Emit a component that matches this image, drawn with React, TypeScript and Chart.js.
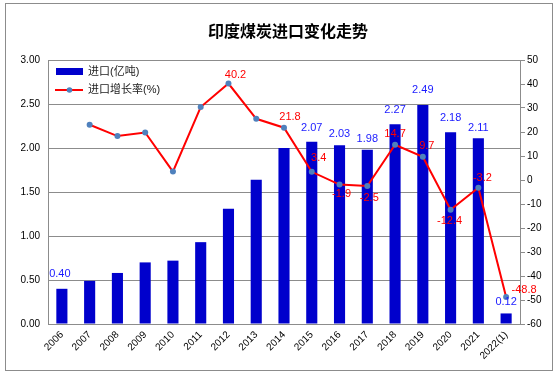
import React, { useEffect, useRef } from "react";
import { Chart, registerables } from "chart.js";

Chart.register(...registerables);

const titleText = "印度煤炭进口变化走势";
const categories = ["2006", "2007", "2008", "2009", "2010", "2011", "2012", "2013", "2014", "2015", "2016", "2017", "2018", "2019", "2020", "2021", "2022(1)"];
const importLabel = "进口(亿吨)";
const growthLabel = "进口增长率(%)";
const importVolume = [0.40, 0.49, 0.58, 0.70, 0.72, 0.93, 1.31, 1.64, 2.00, 2.07, 2.03, 1.98, 2.27, 2.49, 2.18, 2.11, 0.12];
const growthRate: (number | null)[] = [null, 23.0, 18.3, 19.8, 3.5, 30.4, 40.2, 25.5, 21.8, 3.4, -1.9, -2.5, 14.7, 9.7, -12.4, -3.2, -48.8];
const importLabelShown = [true, false, false, false, false, false, false, false, false, true, true, true, true, true, true, true, true];
const growthLabelShown = [false, false, false, false, false, false, true, false, true, true, true, true, true, true, true, true, true];

// label placement offsets (style only)
const importLabelOffset: [number, number][] = [[-2, -15], [0, -13], [0, -13], [0, -13], [0, -13], [0, -13], [0, -13], [0, -13], [0, -13], [0, -14], [0, -11], [0, -11], [0, -14], [0, -15], [0, -14], [0, -10], [0, -11]];
const growthLabelOffset: [number, number][] = [[0, 0], [0, 0], [0, 0], [0, 0], [0, 0], [0, 0], [7, -9], [0, 0], [6, -11], [7, -14], [2, 9], [2, 12], [0, -11], [4, -11], [-1, 11], [4, -10], [18, -7]];

const FONT = "'Liberation Sans', 'Noto Sans CJK SC', sans-serif";

const decorPlugin = {
  id: "decor",
  beforeDraw(chart: any) {
    const ctx = chart.ctx;
    ctx.save();
    ctx.fillStyle = "#ffffff";
    ctx.fillRect(0, 0, chart.width, chart.height);
    ctx.strokeStyle = "#8c8c8c";
    ctx.lineWidth = 1;
    ctx.strokeRect(5.5, 3.5, 547, 367);
    ctx.fillStyle = "#000000";
    ctx.font = `bold 16px 'Noto Sans CJK SC', sans-serif`;
    ctx.textAlign = "center";
    ctx.textBaseline = "middle";
    ctx.fillText(titleText, 288, 31);
    ctx.restore();
  },
  afterDatasetsDraw(chart: any) {
    const ctx = chart.ctx;
    ctx.save();
    ctx.font = `11px ${FONT}`;
    ctx.textAlign = "center";
    ctx.textBaseline = "middle";
    const barMeta = chart.getDatasetMeta(0);
    barMeta.data.forEach((el: any, i: number) => {
      if (!importLabelShown[i]) return;
      const [dx, dy] = importLabelOffset[i];
      ctx.fillStyle = "#1a1aff";
      ctx.fillText(importVolume[i].toFixed(2), el.x + dx, el.y + dy);
    });
    const lineMeta = chart.getDatasetMeta(1);
    lineMeta.data.forEach((el: any, i: number) => {
      const v = growthRate[i];
      if (!growthLabelShown[i] || v === null) return;
      const [dx, dy] = growthLabelOffset[i];
      ctx.fillStyle = "#ff0000";
      ctx.fillText(v.toFixed(1), el.x + dx, el.y + dy);
    });

    // legend
    ctx.fillStyle = "#0000cc";
    ctx.fillRect(56, 68, 27, 7);
    ctx.strokeStyle = "#ff0000";
    ctx.lineWidth = 2;
    ctx.beginPath();
    ctx.moveTo(55, 90);
    ctx.lineTo(83, 90);
    ctx.stroke();
    ctx.fillStyle = "#4f81bd";
    ctx.beginPath();
    ctx.arc(69.5, 90, 2.8, 0, Math.PI * 2);
    ctx.fill();
    ctx.fillStyle = "#222222";
    ctx.textAlign = "left";
    ctx.font = `11px ${FONT}`;
    ctx.fillText(importLabel, 88, 72);
    ctx.fillText(growthLabel, 88, 90);
    ctx.restore();
  },
};

export default function App() {
  const ref = useRef<HTMLCanvasElement>(null);
  useEffect(() => {
    document.body.style.margin = "0";
    if (!ref.current) return;
    const chart = new Chart(ref.current, {
      type: "bar",
      data: {
        labels: categories,
        datasets: [
          {
            type: "bar",
            label: importLabel,
            data: importVolume,
            backgroundColor: "#0000cc",
            borderWidth: 0,
            barPercentage: 0.4,
            categoryPercentage: 1,
            yAxisID: "y",
            order: 2,
          },
          {
            type: "line",
            label: growthLabel,
            data: growthRate as any,
            borderColor: "#ff0000",
            borderWidth: 2,
            pointBackgroundColor: "#4f81bd",
            pointBorderColor: "#4f81bd",
            pointBorderWidth: 0,
            pointRadius: 3,
            tension: 0,
            yAxisID: "y1",
            order: 1,
          },
        ],
      },
      options: {
        responsive: false,
        animation: false,
        layout: { padding: { top: 60, left: 0, right: 0, bottom: 0 } },
        plugins: { legend: { display: false }, tooltip: { enabled: false }, title: { display: false } },
        scales: {
          x: {
            grid: { display: false, drawTicks: false },
            border: { color: "#8c8c8c" },
            ticks: {
              color: "#000",
              font: { family: FONT, size: 10 },
              minRotation: 45,
              maxRotation: 45,
              padding: 5,
              autoSkip: false,
            },
            afterFit: (s: any) => { s.height = 53; },
          },
          y: {
            position: "left",
            min: 0,
            max: 3,
            ticks: {
              stepSize: 0.5,
              color: "#000",
              font: { family: FONT, size: 10 },
              padding: 8,
              callback: (v: any) => Number(v).toFixed(2),
            },
            grid: { color: "#8c8c8c", drawTicks: false },
            border: { color: "#8c8c8c" },
            afterFit: (s: any) => { s.width = 48; },
          },
          y1: {
            position: "right",
            min: -60,
            max: 50,
            ticks: {
              stepSize: 10,
              color: "#000",
              font: { family: FONT, size: 10 },
              padding: 2,
            },
            grid: { drawOnChartArea: false, drawTicks: true, tickLength: 5, tickColor: "#8c8c8c" },
            border: { color: "#8c8c8c" },
            afterFit: (s: any) => { s.width = 40; },
          },
        },
      },
      plugins: [decorPlugin],
    });
    return () => chart.destroy();
  }, []);
  return (
    <div style={{ width: 560, height: 377 }}>
      <canvas ref={ref} width={560} height={377} />
    </div>
  );
}
